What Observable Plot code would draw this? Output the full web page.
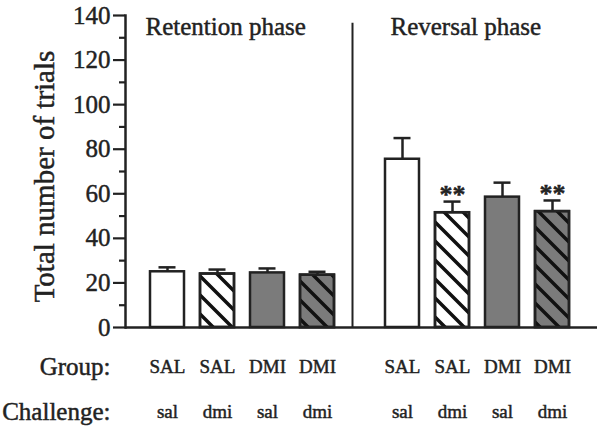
<!DOCTYPE html>
<html>
<head>
<meta charset="utf-8">
<script src="https://cdn.jsdelivr.net/npm/d3@7"></script>
<script src="https://cdn.jsdelivr.net/npm/@observablehq/plot@0.6"></script>
<style>
  html, body { margin: 0; padding: 0; background: #fff; }
  #chart svg { display: block; }
  #chart svg text { font-family: "Liberation Serif", "Times New Roman", serif; stroke: #222222; stroke-width: 0.45px; }
</style>
</head>
<body>
<div id="chart"></div>
<script>
// ---- data ----
const phases = ["Retention phase", "Reversal phase"];
const groupLabels = ["SAL", "SAL", "DMI", "DMI"];
const challengeLabels = ["sal", "dmi", "sal", "dmi"];
const retentionMeans = [25, 24, 24.5, 23.5];
const retentionSEM = [2, 2, 2, 1.5];
const reversalMeans = [75.5, 51.5, 58.5, 52];
const reversalSEM = [9.5, 5, 6.5, 5];
const retentionSig = ["", "", "", ""];
const reversalSig = ["", "**", "", "**"];
const yMajorTicks = [0, 20, 40, 60, 80, 100, 120, 140];
const yMinorTicks = [10, 30, 50, 70, 90, 110, 130];
const yLabel = "Total number of trials";
const groupTitle = "Group:";
const challengeTitle = "Challenge:";

// ---- styles ----
const ink = "#222222";
const fills = {SAL: "#ffffff", DMI: "#7b7b7b"};
const font = '"Liberation Serif", "Times New Roman", serif';
const reversalShift = -15;
const dividerTop = 136.5;

function rowsFor(phase, means, sems, sigs) {
  return means.map((m, i) => ({
    phase,
    slot: phase + "|" + i,
    group: groupLabels[i],
    challenge: challengeLabels[i],
    mean: m,
    sem: sems[i],
    sig: sigs[i]
  }));
}
const retention = rowsFor(phases[0], retentionMeans, retentionSEM, retentionSig);
const reversal = rowsFor(phases[1], reversalMeans, reversalSEM, reversalSig);
const domain = [...retention.map(d => d.slot), "gap", ...reversal.map(d => d.slot)];

function phaseMarks(rows, dx) {
  return [
    Plot.ruleX(rows, {x: "slot", y1: "mean", y2: d => d.mean + d.sem, stroke: ink, strokeWidth: 2.5, dx}),
    Plot.tickY(rows, {x: "slot", y: d => d.mean + d.sem, insetLeft: 8.5, insetRight: 8.5, stroke: ink, strokeWidth: 2.5, dx}),
    Plot.barY(rows, {x: "slot", y: "mean", fill: d => fills[d.group], stroke: ink, strokeWidth: 2.5, dx}),
    Plot.barY(rows, {filter: d => d.challenge === "dmi", x: "slot", y: "mean", fill: "url(#hatch)", stroke: ink, strokeWidth: 2.5, dx}),
    Plot.text(rows, {filter: d => d.sig, x: "slot", y: d => d.mean + d.sem, text: "sig", dy: -7, dx, fontSize: 26, fontWeight: "bold", fill: ink}),
    Plot.text(rows, {x: "slot", text: "group", frameAnchor: "bottom", lineAnchor: "middle", dy: 39, dx, fontSize: 19, fill: ink}),
    Plot.text(rows, {x: "slot", text: "challenge", frameAnchor: "bottom", lineAnchor: "middle", dy: 84, dx, fontSize: 19, fill: ink})
  ];
}

const chart = Plot.plot({
  width: 601,
  height: 434,
  marginLeft: 125,
  marginRight: 4,
  marginTop: 15,
  marginBottom: 107,
  style: {fontFamily: font, background: "#fff", color: ink},
  color: {type: "identity"},
  x: {type: "band", domain, paddingInner: 0.32, paddingOuter: 0.38, align: 0.658, axis: null},
  y: {domain: [0, 140]},
  marks: [
    Plot.axisY({ticks: yMajorTicks, tickSize: 12, tickPadding: 3, fontSize: 25, fontFamily: font, strokeWidth: 2.2, label: null, tickFormat: d => String(d)}),
    Plot.axisY({ticks: yMinorTicks, tickSize: 6, strokeWidth: 2.2, text: null, label: null}),
    Plot.frame({anchor: "left", stroke: ink, strokeWidth: 2.5}),
    Plot.ruleY([0], {stroke: ink, strokeWidth: 2.5}),
    Plot.ruleX(["gap"], {x: d => d, y1: 0, y2: dividerTop, dx: reversalShift, stroke: ink, strokeWidth: 2}),
    Plot.text([yLabel], {text: d => d, frameAnchor: "left", textAnchor: "middle", lineAnchor: "middle", rotate: -90, dx: -81, dy: 5, fontSize: 29, fill: ink}),
    Plot.text([phases[0]], {x: () => retention[0].slot, text: d => d, frameAnchor: "top", lineAnchor: "middle", dy: 11, dx: -22, textAnchor: "start", fontSize: 25, fill: ink}),
    Plot.text([phases[1]], {x: () => reversal[0].slot, text: d => d, frameAnchor: "top", lineAnchor: "middle", dy: 11, dx: -27, textAnchor: "start", fontSize: 25, fill: ink}),
    Plot.text([groupTitle], {text: d => d, frameAnchor: "bottom-left", lineAnchor: "middle", dx: -15, dy: 39, textAnchor: "end", fontSize: 25, fill: ink}),
    Plot.text([challengeTitle], {text: d => d, frameAnchor: "bottom-left", lineAnchor: "middle", dx: -15, dy: 84, textAnchor: "end", fontSize: 25, fill: ink}),
    ...phaseMarks(retention, 0),
    ...phaseMarks(reversal, reversalShift)
  ]
});

// hatch pattern definition (diagonal "\" lines)
const NS = "http://www.w3.org/2000/svg";
const defs = document.createElementNS(NS, "defs");
const pat = document.createElementNS(NS, "pattern");
pat.setAttribute("id", "hatch");
pat.setAttribute("patternUnits", "userSpaceOnUse");
pat.setAttribute("width", "19");
pat.setAttribute("height", "19");
const path = document.createElementNS(NS, "path");
path.setAttribute("d", "M-5,-5L24,24M-5,14L5,24M14,-5L24,5");
path.setAttribute("stroke", "#111");
path.setAttribute("stroke-width", "3.5");
path.setAttribute("fill", "none");
pat.appendChild(path);
defs.appendChild(pat);
chart.insertBefore(defs, chart.firstChild);

document.getElementById("chart").appendChild(chart);
</script>
</body>
</html>
